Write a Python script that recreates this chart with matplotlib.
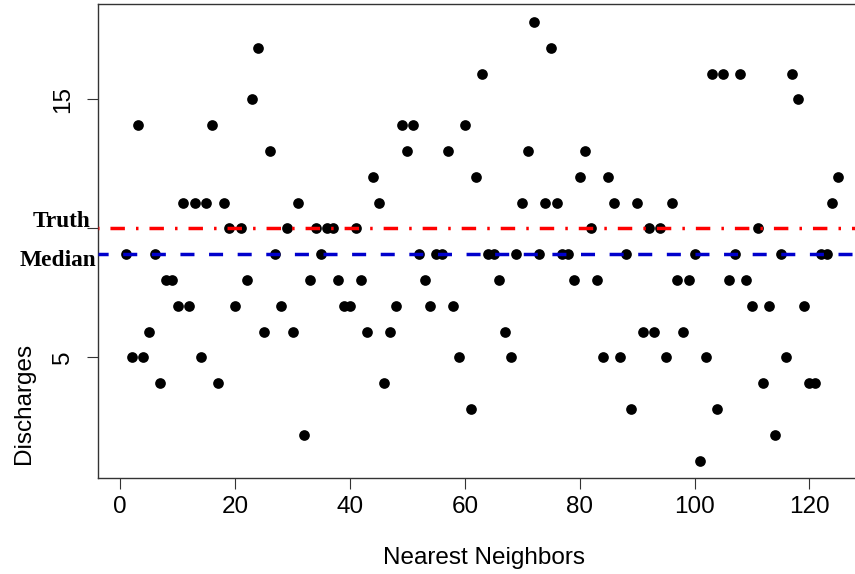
import matplotlib
matplotlib.use("Agg")
import matplotlib.pyplot as plt
import numpy as np

# ---- data ----
discharges = [
    9, 5, 14, 5, 6, 9, 4, 8, 8, 7,
    11, 7, 11, 5, 11, 14, 4, 11, 10, 7,
    10, 8, 15, 17, 6, 13, 9, 7, 10, 6,
    11, 2, 8, 10, 9, 10, 10, 8, 7, 7,
    10, 8, 6, 12, 11, 4, 6, 7, 14, 13,
    14, 9, 8, 7, 9, 9, 13, 7, 5, 14,
    3, 12, 16, 9, 9, 8, 6, 5, 9, 11,
    13, 18, 9, 11, 17, 11, 9, 9, 8, 12,
    13, 10, 8, 5, 12, 11, 5, 9, 3, 11,
    6, 10, 6, 10, 5, 11, 8, 6, 8, 9,
    1, 5, 16, 3, 16, 8, 9, 16, 8, 7,
    10, 4, 7, 2, 9, 5, 16, 15, 7, 4,
    4, 9, 9, 11, 12,
]
neighbors = list(range(1, len(discharges) + 1))
truth_value = 10
median_value = float(np.median(discharges))
x_ticks = [0, 20, 40, 60, 80, 100, 120]
y_ticks = [5, 10, 15]
y_ticklabels = ["5", "", "15"]

plt.rcParams["font.family"] = ["Liberation Sans", "DejaVu Sans"]
plt.rcParams["lines.scale_dashes"] = False

W, H = 855, 574
fig = plt.figure(figsize=(W / 100, H / 100), dpi=100)

# axes geometry in pixels
px_per_x = 5.742
x0_px = 120.3
xmin, xmax = -3.9, 129.96
left_px = x0_px + xmin * px_per_x
width_px = (xmax - xmin) * px_per_x
ymin, ymax = 0.32, 18.68
top_px, bottom_px = 4.4, 478.1
ax = fig.add_axes([left_px / W, (H - bottom_px) / H, width_px / W, (bottom_px - top_px) / H])
ax.set_xlim(xmin, xmax)
ax.set_ylim(ymin, ymax)

ax.scatter(neighbors, discharges, s=7.7 ** 2, color="black", linewidths=0, zorder=2)

ax.axhline(truth_value, color="#ff0000", lw=2.5, zorder=3,
           linestyle=(1.1, (1.8, 7.9, 10.4, 8.0)), dash_capstyle="butt")
ax.axhline(median_value, color="#0000cc", lw=2.5, zorder=3,
           linestyle=(2.8, (10.1, 10.5)), dash_capstyle="butt")

for s in ax.spines.values():
    s.set_color("#333333")
    s.set_linewidth(1.0)

ax.set_xticks(x_ticks)
ax.set_yticks(y_ticks)
ax.set_yticklabels(y_ticklabels)
ax.tick_params(axis="both", length=8, width=0.8, color="#333333", labelsize=17.5)
ax.tick_params(axis="x", pad=5)
ax.tick_params(axis="y", pad=9, labelrotation=90)
for lab in ax.get_yticklabels():
    lab.set_va("center")

# labels
fig.text(483.8 / W, (H - 564) / H, "Nearest Neighbors", fontsize=17.5,
         ha="center", va="baseline")
fig.text(30 / W, (H - 403) / H, "Discharges", fontsize=17.5, rotation=90,
         rotation_mode="anchor", ha="center", va="baseline")

fig.text(90 / W, (H - 226.7) / H, "Truth", fontsize=16.8, fontweight="bold",
         family=["Liberation Serif", "DejaVu Serif"], ha="right", va="baseline")
fig.text(96.5 / W, (H - 265.7) / H, "Median", fontsize=16.8, fontweight="bold",
         family=["Liberation Serif", "DejaVu Serif"], ha="right", va="baseline")

fig.savefig("out.png", dpi=100)
